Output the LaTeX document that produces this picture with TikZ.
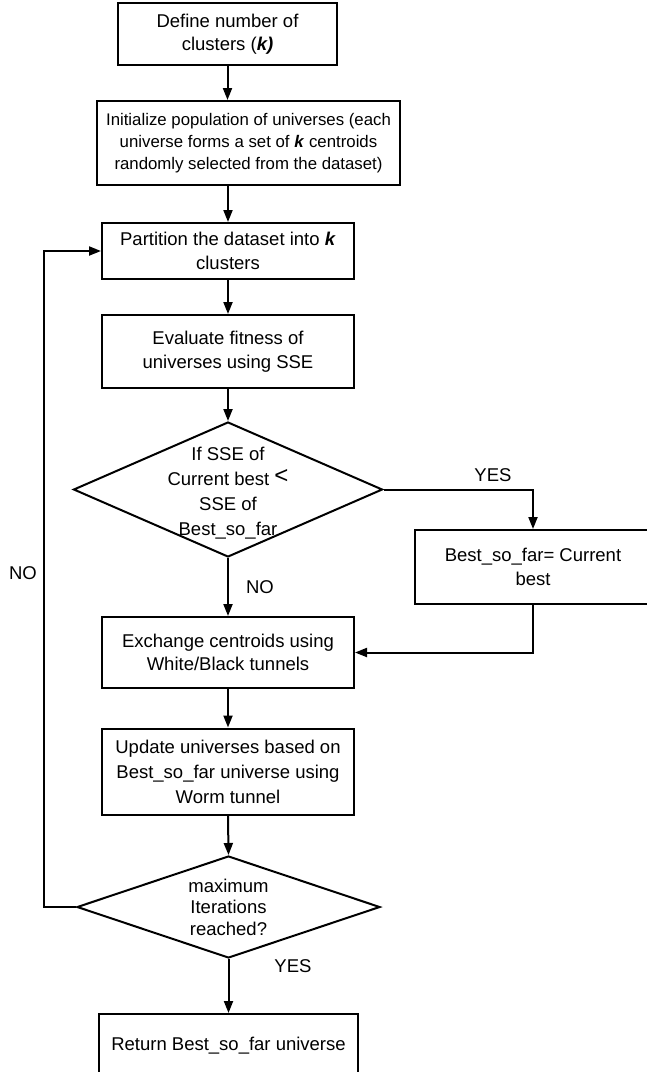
\documentclass[tikz,border=0pt]{standalone}
\usepackage{fontspec}
\setmainfont{Liberation Sans}
\usetikzlibrary{shapes.geometric,arrows.meta}
\begin{document}
\begin{tikzpicture}[x=1pt,y=-1pt,
  line width=2pt,
  every node/.style={font=\fontsize{18.5}{23.5}\selectfont},
  procbox/.style={draw, rectangle, align=center, inner sep=0pt},
  decision/.style={draw, diamond, inner sep=0pt},
  dtext/.style={align=center, inner sep=0pt},
  lbl/.style={inner sep=0pt},
  arr/.style={-{Triangle[length=12pt,width=9pt]}}]
\useasboundingbox (0,0) rectangle (647,1072);

\node[procbox, minimum width=219pt, minimum height=62pt] (b1) at (227.5,34)
  {Define number of\\clusters (\textbf{\textit{k)}}};
\node[procbox, minimum width=303pt, minimum height=84pt, font=\fontsize{16.8}{22}\selectfont] (b2) at (248.5,143)
  {Initialize population of universes (each\\universe forms a set of \textbf{\textit{k}} centroids\\randomly selected from the dataset)};
\node[procbox, minimum width=252pt, minimum height=56pt] (b3) at (228,251)
  {Partition the dataset into \textbf{\textit{k}}\\clusters};
\node[procbox, minimum width=252pt, minimum height=73pt] (b4) at (228,351.5)
  {Evaluate fitness of\\universes using SSE};
\node[decision, minimum width=309pt, minimum height=135pt] (d1) at (228,489.5) {};
\node[dtext, font=\fontsize{18.5}{25}\selectfont] (d1t) at ([yshift=-3.5pt]d1.center)
  {If SSE of\\Current best \raisebox{1.5pt}{\fontsize{24}{24}\selectfont <}\\SSE of\\Best\_so\_far};
\node[procbox, minimum width=236pt, minimum height=74pt] (b5) at (533,567)
  {Best\_so\_far= Current\\best};
\node[procbox, minimum width=252pt, minimum height=71pt] (b6) at (228,652.5)
  {Exchange centroids using\\White/Black tunnels};
\node[procbox, minimum width=252pt, minimum height=86pt, font=\fontsize{18.5}{25}\selectfont] (b7) at (228,771.5)
  {Update universes based on\\Best\_so\_far universe using\\Worm tunnel};
\node[decision, minimum width=303pt, minimum height=102pt] (d2) at (228.5,907) {};
\node[dtext, font=\fontsize{18.5}{21.5}\selectfont] (d2t) at (d2.center)
  {maximum\\Iterations\\reached?};
\node[procbox, minimum width=259pt, minimum height=64pt] (b8) at (228.5,1046)
  {Return Best\_so\_far universe};

\node[lbl] (yes1) at (493,475) {YES};
\node[lbl] (no1) at (260,587) {NO};
\node[lbl] (no2) at (23,573) {NO};
\node[lbl] (yes2) at (293,966) {YES};

\draw[arr] (b1.south) -- (b1.south |- b2.north);
\draw[arr] (b3.north |- b2.south) -- (b3.north);
\draw[arr] (b3.south) -- (b4.north);
\draw[arr] (b4.south) -- (d1.north);
\draw[arr] (d1.east) -| (b5.north);
\draw[arr] (d1.south) -- (b6.north);
\draw[arr] (b5.south) |- (b6.east);
\draw[arr] (b6.south) -- (b7.north);
\draw[arr] (b7.south) -- (d2.north);
\draw[arr] (d2.south) -- (b8.north);
\draw[arr] (d2.west) -- ++(-32,0) |- (b3.west);
\end{tikzpicture}
\end{document}
